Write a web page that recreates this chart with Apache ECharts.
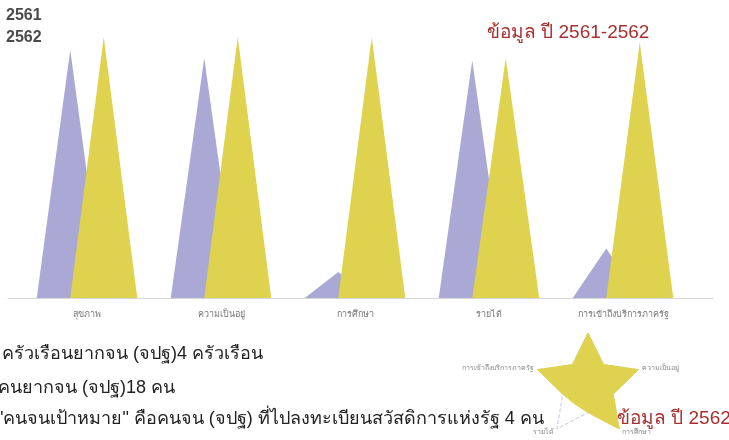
<!DOCTYPE html>
<html>
<head>
<meta charset="utf-8">
<script src="https://cdn.jsdelivr.net/npm/echarts@6/dist/echarts.min.js"></script>
<style>
html, body { margin: 0; padding: 0; background: #fff; }
#chart { width: 729px; height: 440px; }
</style>
</head>
<body>
<div id="chart"></div>
<script>
// ข้อมูลกราฟแท่ง
var categories = ['สุขภาพ', 'ความเป็นอยู่', 'การศึกษา', 'รายได้', 'การเข้าถึงบริการภาครัฐ'];
var years = ['2561', '2562'];
var values2561 = [95, 92, 10, 91, 19];
var values2562 = [100, 100, 100, 92, 98];

// เรดาร์ (จุดที่มีชื่อ สลับกับจุดด้านใน)
var radarNames = ['', '', 'การเข้าถึงบริการภาครัฐ', '', 'รายได้', '', 'การศึกษา', '', 'ความเป็นอยู่', ''];
var radarOutline = [100, 50, 100, 50, 100, 50, 100, 50, 100, 50];
var radar2562 = [100, 50, 100, 50, 42, 50, 100, 50, 100, 50];

var notes = [
    'ครัวเรือนยากจน (จปฐ)4 ครัวเรือน',
    'คนยากจน (จปฐ)18 คน',
    '"คนจนเป้าหมาย" คือคนจน (จปฐ) ที่ไปลงทะเบียนสวัสดิการแห่งรัฐ 4 คน'
];

var purple = '#aaa8d4';
var yellow = '#dfd24f';
var red = '#a8302f';

var myChart = echarts.init(document.getElementById('chart'));

var myoption = {
    animation: false,
    textStyle: { fontFamily: 'sans-serif' },
    color: [purple, yellow],
    title: [
        { text: 'ข้อมูล ปี 2561-2562', left: 487, top: 23, padding: 0,
          textStyle: { color: red, fontSize: 19, fontWeight: 'normal' } },
        { text: 'ข้อมูล ปี 2562', left: 617, top: 409, padding: 0,
          textStyle: { color: red, fontSize: 19, fontWeight: 'normal' } },
        { text: notes[0], left: 2, top: 345, padding: 0,
          textStyle: { color: '#222', fontSize: 18, fontWeight: 'normal' } },
        { text: notes[1], left: -2, top: 379, padding: 0,
          textStyle: { color: '#222', fontSize: 18, fontWeight: 'normal' } },
        { text: notes[2], left: -3, top: 410, padding: 0,
          textStyle: { color: '#222', fontSize: 18, fontWeight: 'normal' } }
    ],
    legend: {
        orient: 'vertical',
        left: -9,
        top: 8,
        padding: 0,
        icon: 'none',
        itemWidth: 10,
        itemHeight: 16,
        itemGap: 6,
        data: years,
        textStyle: { fontSize: 16, color: '#4a4a4a', fontWeight: 600 }
    },
    grid: [
        { left: 20, right: 39, top: 37, bottom: 142 },
        { left: 8, right: 16, top: 37, bottom: 142 }
    ],
    xAxis: [
        {
            type: 'category',
            gridIndex: 0,
            data: categories,
            axisLine: { show: false },
            axisTick: { show: false },
            axisLabel: { color: '#777', fontSize: 9, margin: 12 }
        },
        {
            type: 'category',
            gridIndex: 1,
            data: [''],
            axisLine: { lineStyle: { color: '#d6d6d6', width: 1 } },
            axisTick: { show: false },
            axisLabel: { show: false }
        }
    ],
    yAxis: [
        { type: 'value', gridIndex: 0, min: 0, max: 100, show: false },
        { type: 'value', gridIndex: 1, show: false }
    ],
    radar: {
        center: [588, 386],
        radius: 53,
        startAngle: 90,
        splitNumber: 1,
        nameGap: 4,
        indicator: radarNames.map(function (n) { return { name: n, max: 100 }; }),
        axisName: { color: '#888', fontSize: 7 },
        axisLine: { show: false },
        splitLine: { show: false },
        splitArea: { show: false }
    },
    series: [
        {
            name: '2561',
            type: 'pictorialBar',
            symbol: 'triangle',
            barWidth: 67,
            barGap: '-50%',
            itemStyle: { color: purple },
            data: values2561
        },
        {
            name: '2562',
            type: 'pictorialBar',
            symbol: 'triangle',
            barWidth: 67,
            barGap: '-50%',
            itemStyle: { color: yellow },
            data: values2562
        },
        {
            type: 'radar',
            symbol: 'none',
            data: [
                { value: radarOutline, name: 'outline',
                  lineStyle: { type: 'dashed', color: '#c4c3e6', width: 1 } },
                { value: radar2562, name: 'radar2562',
                  lineStyle: { color: yellow, width: 1 },
                  itemStyle: { color: yellow },
                  areaStyle: { color: yellow, opacity: 1 } }
            ]
        }
    ]
};

myChart.setOption(myoption);

window.onresize = function () {
    myChart.resize();
};
</script>
</body>
</html>
